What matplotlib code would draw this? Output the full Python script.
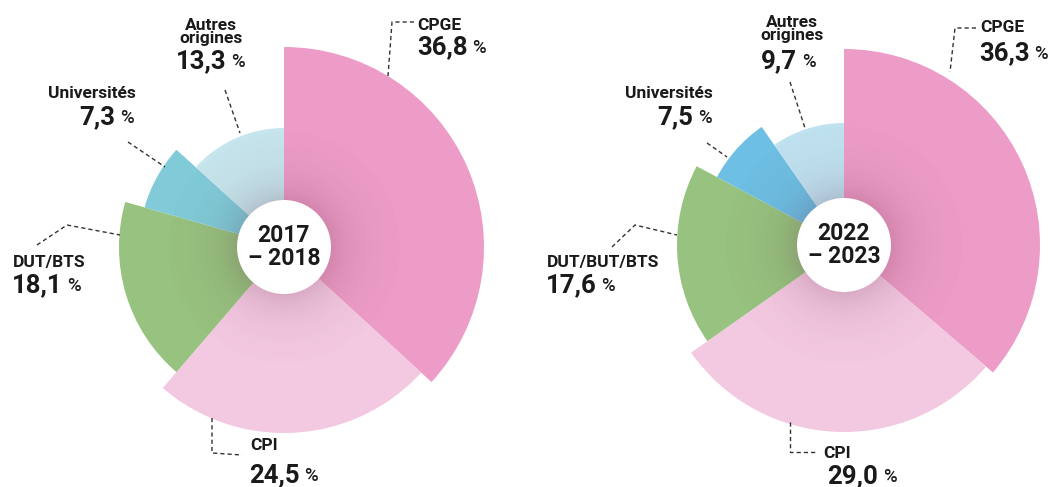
import numpy as np
import matplotlib
matplotlib.use("Agg")
import matplotlib.pyplot as plt
from matplotlib.patches import Circle

# ---------------- data ----------------
categories_2017 = ["CPGE", "CPI", "DUT/BTS", "Universités", "Autres\norigines"]
values_2017 = [36.8, 24.5, 18.1, 7.3, 13.3]
categories_2022 = ["CPGE", "CPI", "DUT/BUT/BTS", "Universités", "Autres\norigines"]
values_2022 = [36.3, 29.0, 17.6, 7.5, 9.7]
periods = ["2017\n– 2018", "2022\n– 2023"]

# ---------------- style ----------------
W, H = 1053, 487
FONT = ["Roboto", "DejaVu Sans"]
colors_2017 = ["#ec9cc6", "#f3c8e1", "#97c27f", "#80cbd7", "#c6e5ec"]
colors_2022 = ["#ec9cc6", "#f3c8e1", "#97c27f", "#6dbfe3", "#bfe2f0"]
radii_2017 = [200, 186, 165, 145, 119]
radii_2022 = [196, 187, 167, 144, 122]
centers = [(284, 247), (844, 245)]
HOLE = 47
HALF = 230

# label layout (image pixel coords, y down): name pos, name ha, number pos, leader line
layout_2017 = [
    dict(name=(417, 30), ha="left", num=(417, 54), line=[(414, 22), (392, 22), (388, 76)]),
    dict(name=(250, 450), ha="left", num=(249, 482), line=[(212, 418), (212, 453), (242, 455)]),
    dict(name=(13, 267), ha="left", num=(12, 292), line=[(37, 245), (67, 225), (120, 235)]),
    dict(name=(136, 98), ha="right", num=(79, 124), line=[(128, 142), (165, 167)]),
    dict(name=(211, 30), ha="center", num=(176, 68), line=[(225, 90), (240, 133)]),
]
layout_2022 = [
    dict(name=(980, 32), ha="left", num=(979, 60), line=[(976, 28), (955, 28), (950, 72)]),
    dict(name=(823, 458), ha="left", num=(827, 483), line=[(790, 422), (790, 452), (817, 452)]),
    dict(name=(547, 267), ha="left", num=(546, 292), line=[(612, 247), (635, 225), (677, 235)]),
    dict(name=(713, 98), ha="right", num=(657, 124), line=[(707, 143), (727, 157)]),
    dict(name=(792, 27), ha="center", num=(761, 68), line=[(790, 82), (805, 128)]),
]

fig = plt.figure(figsize=(W / 100, H / 100), dpi=100)
fig.patch.set_facecolor("white")

charts = [
    (values_2017, colors_2017, radii_2017),
    (values_2022, colors_2022, radii_2022),
]

for (vals, cols, radii), (cx, cy) in zip(charts, centers):
    cy_up = H - cy
    ax = fig.add_axes([(cx - HALF) / W, (cy_up - HALF) / H, 2 * HALF / W, 2 * HALF / H],
                      projection="polar")
    ax.set_theta_zero_location("N")
    ax.set_theta_direction(-1)
    total = float(np.sum(vals))
    widths = np.array(vals) / total * 2 * np.pi
    starts = np.concatenate([[0], np.cumsum(widths)[:-1]])
    ax.bar(starts, radii, width=widths, bottom=0, align="edge",
           color=cols, edgecolor="none", linewidth=0, zorder=1)
    ax.set_ylim(0, HALF)
    ax.set_axis_off()

# overlay for shading, hole, texts and leader lines in pixel coordinates
ov = fig.add_axes([0, 0, 1, 1], zorder=10)
ov.set_xlim(0, W)
ov.set_ylim(H, 0)
ov.set_axis_off()
ov.patch.set_alpha(0)

for (vals, cols, radii), (cx, cy) in zip(charts, centers):
    R = min(radii) - 3
    n = 300
    g = np.linspace(-R, R, n)
    X, Y = np.meshgrid(g, g)
    D = np.hypot(X, Y)
    A = 0.16 * np.exp(-np.clip(D - HOLE, 0, None) / 24.0)
    A[D > R] = 0
    img = np.zeros((n, n, 4))
    img[..., 0] = 0.30
    img[..., 1] = 0.05
    img[..., 2] = 0.18
    img[..., 3] = A
    im = ov.imshow(img, extent=(cx - R, cx + R, cy + R, cy - R), interpolation="bilinear",
                   zorder=1)
    clip = Circle((cx, cy), R, transform=ov.transData)
    im.set_clip_path(clip)
    ov.add_patch(Circle((cx, cy), HOLE, facecolor="white", edgecolor="none", zorder=2))
ov.set_xlim(0, W)
ov.set_ylim(H, 0)

all_cats = [categories_2017, categories_2022]
all_vals = [values_2017, values_2022]
all_layouts = [layout_2017, layout_2022]

for cats, vals, lay in zip(all_cats, all_vals, all_layouts):
    for cat, v, L in zip(cats, vals, lay):
        xs, ys = zip(*L["line"])
        ov.plot(xs, ys, color="#333333", lw=1.0, ls=(0, (3, 2.2)), solid_capstyle="butt",
                zorder=3)
        nx, ny = L["name"]
        for i, part in enumerate(cat.split("\n")):
            ov.text(nx, ny + i * 13, part, ha=L["ha"], va="baseline",
                    fontsize=12.5, fontweight="bold", family=FONT, color="#1a1a1a", zorder=4)
        vx, vy = L["num"]
        t = ov.text(vx, vy, f"{v:.1f}".replace(".", ","), ha="left", va="baseline",
                    fontsize=18.5, fontweight="bold", family=FONT, color="#1a1a1a", zorder=4)
        ov.annotate("%", xy=(1, 0), xycoords=t, xytext=(3.5, 1.2), textcoords="offset points",
                    ha="left", va="bottom", fontsize=13.5, fontweight="medium",
                    family=FONT, color="#1a1a1a", zorder=4)

for p, (cx, cy) in zip(periods, centers):
    ov.text(cx, cy, p, ha="center", va="center", fontsize=16.5, fontweight="bold",
            family=FONT, color="#1a1a1a", linespacing=0.95, zorder=4)

fig.savefig("out.png", dpi=100, facecolor="white")
